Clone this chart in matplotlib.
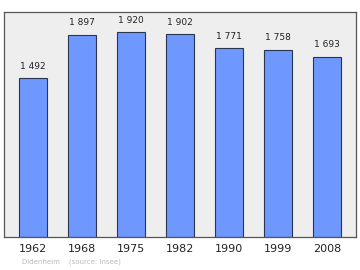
import matplotlib
matplotlib.use('Agg')
import matplotlib.pyplot as plt

years = ['1962', '1968', '1975', '1982', '1990', '1999', '2008']
population = [1492, 1897, 1920, 1902, 1771, 1758, 1693]
labels = ['1 492', '1 897', '1 920', '1 902', '1 771', '1 758', '1 693']

fig = plt.figure(figsize=(3.6, 2.7), dpi=100)
ax = fig.add_axes([4 / 360, 1 - 237 / 270, 352 / 360, 225 / 270])
ax.set_facecolor('#eeeeee')

x = range(len(years))
ax.bar(x, population, width=0.57, color='#6f98ff', edgecolor='#2a3550', linewidth=0.8)
for i, v in enumerate(population):
    ax.text(i, v + 70, labels[i], ha='center', va='bottom', fontsize=6.5, color='#222222')

ax.set_xlim(-0.59, 6.59)
ax.set_ylim(0, 2112)
ax.set_xticks(list(x))
ax.set_xticklabels(years, fontsize=8, color='#222222')
ax.set_yticks([])
ax.tick_params(axis='x', length=0, pad=5)
for s in ax.spines.values():
    s.set_color('#555555')
    s.set_linewidth(0.9)

fig.text(22 / 360, 1 - 262 / 270, 'Didenheim    (source: Insee)', fontsize=5, color='#bbbbbb', va='center')

fig.savefig('out.png', dpi=100, facecolor='white')
